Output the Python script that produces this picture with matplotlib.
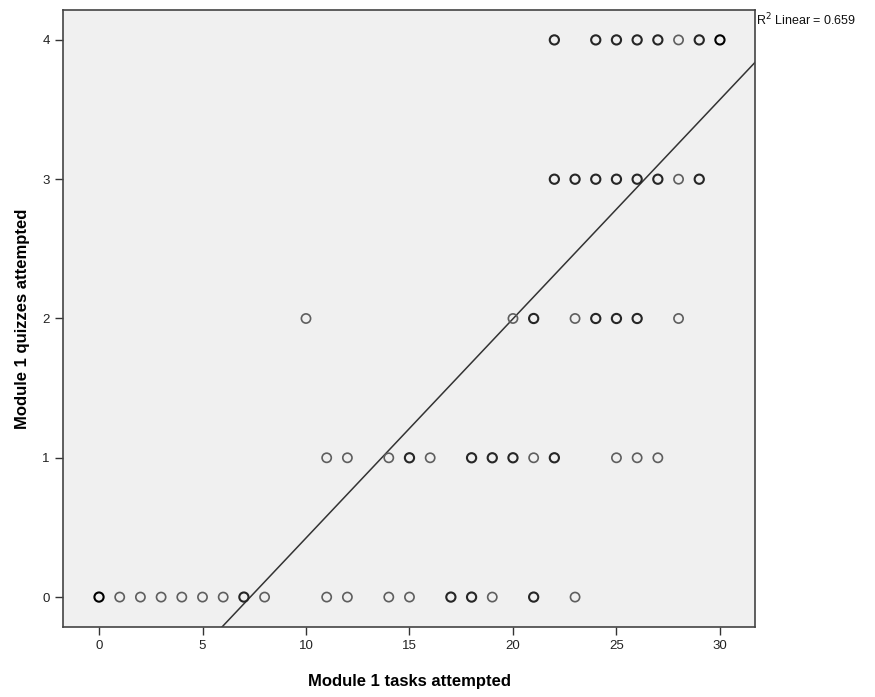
import numpy as np
import matplotlib
matplotlib.use("Agg")
from matplotlib import pyplot as plt

plt.rcParams['font.family'] = ['Liberation Sans', 'DejaVu Sans']

# --- data: (tasks, quizzes, how many overlap)
x4 = [22, 24, 25, 26, 27, 28, 29, 30]
n4 = [2, 2, 2, 2, 2, 1, 2, 3]
x3 = [22, 23, 24, 25, 26, 27, 28, 29]
n3 = [2, 2, 2, 2, 2, 2, 1, 2]
x2 = [10, 20, 21, 23, 24, 25, 26, 28]
n2 = [1, 1, 2, 1, 2, 2, 2, 1]
x1 = [11, 12, 14, 15, 16, 18, 19, 20, 21, 22, 25, 26, 27]
n1 = [1, 1, 1, 2, 1, 2, 2, 2, 1, 2, 1, 1, 1]
x0 = [0, 1, 2, 3, 4, 5, 6, 7, 8, 11, 12, 14, 15, 17, 18, 19, 21, 23]
n0 = [3, 1, 1, 1, 1, 1, 1, 2, 1, 1, 1, 1, 1, 2, 2, 1, 2, 1]

slope = 0.1574
intercept = -1.150
r2_label = "0.659"

xs, ys, ns = [], [], []
for yv, xr, nr in [(4, x4, n4), (3, x3, n3), (2, x2, n2), (1, x1, n1), (0, x0, n0)]:
    xs += xr
    ys += [yv] * len(xr)
    ns += nr
xs = np.array(xs); ys = np.array(ys); ns = np.array(ns)

fig = plt.figure(figsize=(8.75, 6.97), dpi=100)
ax = fig.add_axes([0.072, 0.1004, 0.791, 0.8853])
ax.set_facecolor('#f0f0f0')

# darker edge when several cases sit on the same spot
edge = {1: '#5e5e5e', 2: '#262626', 3: '#000000'}
for k in (1, 2, 3):
    m = ns == k
    ax.scatter(xs[m], ys[m], s=44, facecolors='none', edgecolors=edge[k],
               linewidths=1.5 if k > 1 else 1.2, zorder=3)

xmin, xmax = -1.74, 31.7
ymin, ymax = -0.215, 4.215
lx = np.array([xmin, xmax])
ax.plot(lx, intercept + slope * lx, color='#333333', lw=1.1, zorder=2)

ax.set_xlim(xmin, xmax)
ax.set_ylim(ymin, ymax)
ax.set_xticks([0, 5, 10, 15, 20, 25, 30])
ax.set_yticks([0, 1, 2, 3, 4])
ax.tick_params(direction='out', length=6, width=1, color='#333333', labelsize=9.5, labelcolor='#222222')
for s in ax.spines.values():
    s.set_color('#444444')
    s.set_linewidth(1.2)

ax.set_xlabel('Module 1 tasks attempted', fontsize=12, fontweight='bold', labelpad=16)
ax.set_ylabel('Module 1 quizzes attempted', fontsize=12, fontweight='bold', labelpad=9)

fig.text(0.864, 0.971, r'R$^2$ Linear = ' + r2_label, fontsize=9, ha='left', va='center', color='#111111')

fig.savefig('out.png', dpi=100)
